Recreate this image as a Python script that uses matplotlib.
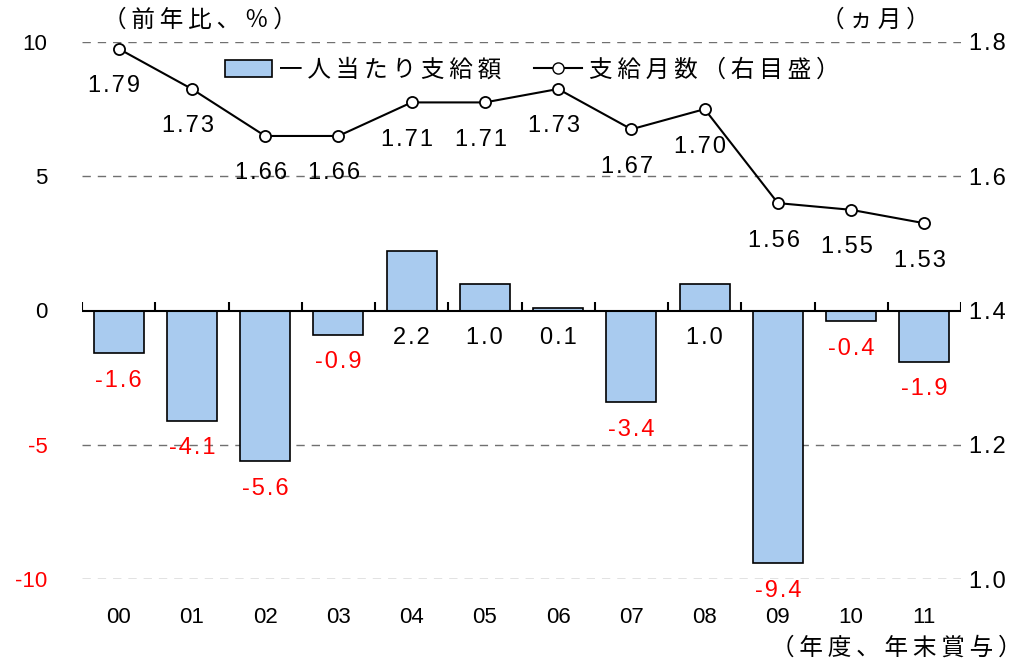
import numpy as np
import matplotlib
matplotlib.use("Agg")
import matplotlib.pyplot as plt
from matplotlib.patches import Patch
from matplotlib.lines import Line2D

plt.rcParams['font.family'] = ['Liberation Sans', 'Noto Sans CJK JP', 'DejaVu Sans']

# data
years = ['00', '01', '02', '03', '04', '05', '06', '07', '08', '09', '10', '11']
pay_change = [-1.6, -4.1, -5.6, -0.9, 2.2, 1.0, 0.1, -3.4, 1.0, -9.4, -0.4, -1.9]
months = [1.79, 1.73, 1.66, 1.66, 1.71, 1.71, 1.73, 1.67, 1.70, 1.56, 1.55, 1.53]
left_ticks = [10, 5, 0, -5, -10]
right_ticks = [1.0, 1.2, 1.4, 1.6, 1.8]

bar_color = '#A9CBEF'
fs = 17
jp = ['Noto Sans CJK JP', 'DejaVu Sans']


def spaced(s, sep='\u200a'):
    # the original has wide letter spacing
    return sep.join(s)


fig = plt.figure(figsize=(10.29, 6.66), dpi=100)
ax = fig.add_axes([82 / 1029, 1 - 579 / 666, 879 / 1029, 537 / 666])
x = np.arange(len(years))

ax.set_xlim(-0.5, len(years) - 0.5)
ax.set_ylim(-10, 10)

# dashed grid (not at zero)
for v in left_ticks:
    if v != 0:
        ax.axhline(v, color='#707070', lw=1, ls=(0, (6, 5)), zorder=0)

ax.bar(x, pay_change, width=0.68, color=bar_color, edgecolor='black', lw=1.2, zorder=2)

# zero line with category-boundary ticks
ax.axhline(0, color='black', lw=1.5, zorder=3)
bounds = np.arange(len(years) + 1) - 0.5
ax.vlines(bounds, 0, 0.3, color='black', lw=1.5, zorder=3)

for i, v in enumerate(pay_change):
    base = v if v < 0 else 0
    ax.annotate(spaced(f'{v:.1f}'), (i, base), xytext=(0, -20), textcoords='offset points',
                ha='center', va='center', color='red' if v < 0 else 'black', fontsize=fs)

ax.set_xticks(x)
ax.set_xticklabels(years, fontsize=fs - 1)
ax.tick_params(axis='x', length=0, pad=20)
ax.set_yticks(left_ticks)
ax.set_yticklabels([str(v) for v in left_ticks], fontsize=fs - 1)
ax.tick_params(axis='y', length=0, pad=25)
for lab, v in zip(ax.get_yticklabels(), left_ticks):
    lab.set_color('red' if v < 0 else 'black')
for s in ax.spines.values():
    s.set_visible(False)

ax2 = ax.twinx()
ax2.set_ylim(1.0, 1.8)
ax2.plot(x, months, color='black', lw=1.5, marker='o', ms=8,
         mfc='white', mec='black', mew=1.3, zorder=5)
for i, v in enumerate(months):
    ax2.annotate(spaced(f'{v:.2f}'), (i, v), xytext=(-3, -27), textcoords='offset points',
                 ha='center', va='center', fontsize=fs)
ax2.set_yticks(right_ticks)
ax2.set_yticklabels([spaced(f'{v:.1f}') for v in right_ticks], fontsize=fs)
ax2.tick_params(axis='y', length=0, pad=6)
for s in ax2.spines.values():
    s.set_visible(False)

fig.text(200 / 1029, 1 - 20 / 666, spaced('（前年比、％）', '\u2009'), ha='center', va='center',
         fontsize=fs, family=jp)
fig.text(875 / 1029, 1 - 20 / 666, spaced('（ヵ月）', '\u2009'), ha='center', va='center',
         fontsize=fs, family=jp)
fig.text(1022 / 1029, 1 - 648 / 666, spaced('（年度、年末賞与）', '\u2009'), ha='right',
         va='center', fontsize=fs, family=jp)

handles = [Patch(facecolor=bar_color, edgecolor='black', lw=1.2),
           Line2D([], [], color='black', lw=1.5, marker='o', ms=8, mfc='white', mec='black')]
fig.legend(handles, [spaced('一人当たり支給額', '\u2009'), spaced('支給月数（右目盛）', '\u2009')],
           loc='center', bbox_to_anchor=(532 / 1029, 1 - 70 / 666), ncol=2, frameon=False,
           prop={'family': jp, 'size': fs}, handlelength=2.0, handletextpad=0.3,
           columnspacing=1.4)

fig.savefig('out.png', dpi=100)
